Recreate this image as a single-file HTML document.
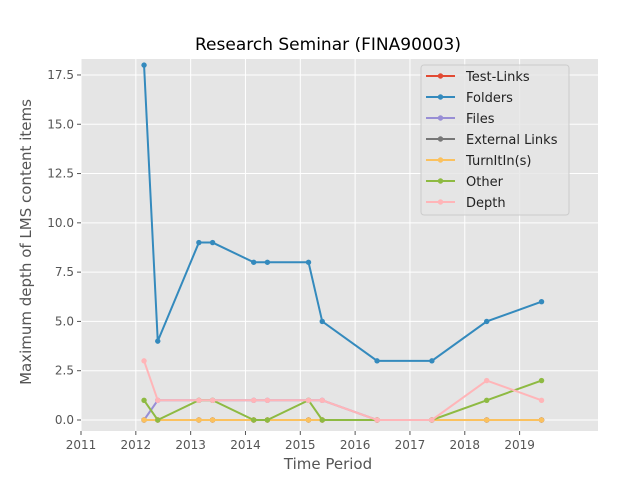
<!DOCTYPE html>
<html><head><meta charset="utf-8"><style>
html,body{margin:0;padding:0;background:#fff;}
svg{display:block;font-family:"DejaVu Sans","Liberation Sans",sans-serif;}
</style></head><body>
<svg id="chart" width="640" height="480" viewBox="0 0 640 480">
<rect x="81" y="59" width="517" height="372" fill="#e5e5e5"/>
<g id="grid"></g><g id="axes"></g><g id="series"></g>
<text x="328" y="50" font-size="17" text-anchor="middle" fill="#000">Research Seminar (FINA90003)</text>
<text x="328" y="469" font-size="15" text-anchor="middle" fill="#555">Time Period</text>
<text transform="translate(31,242) rotate(-90)" font-size="15" text-anchor="middle" fill="#555">Maximum depth of LMS content items</text>
<g id="legend"></g>
</svg>
<script>
const xs = [2012.15,2012.4,2013.15,2013.4,2014.15,2014.4,2015.15,2015.4,2016.4,2017.4,2018.4,2019.4];
const seriesNames = ["Test-Links","Folders","Files","External Links","TurnItIn(s)","Other","Depth"];
const testLinks = [0,0,0,0,0,0,0,0,0,0,0,0];
const folders = [18,4,9,9,8,8,8,5,3,3,5,6];
const files = [0,1,1,1,1,1,1,1,0,0,0,0];
const externalLinks = [0,0,0,0,0,0,0,0,0,0,0,0];
const turnitin = [0,0,0,0,0,0,0,0,0,0,0,0];
const other = [1,0,1,1,0,0,1,0,0,0,1,2];
const depth = [3,1,1,1,1,1,1,1,0,0,2,1];
const xTicks = [2011,2012,2013,2014,2015,2016,2017,2018,2019];
const yTicks = [0,2.5,5,7.5,10,12.5,15,17.5];
const colors = ["#E24A33","#348ABD","#988ED5","#777777","#FBC15E","#8EBA42","#FFB5B8"];
const allSeries = [testLinks,folders,files,externalLinks,turnitin,other,depth];
const NS="http://www.w3.org/2000/svg";
const X0=81,X1=598,Y0=59,Y1=431;
const xMin=2011,xMax=2020.43,yMin=-0.558,yMax=18.31;
function xp(v){return X0+(v-xMin)/(xMax-xMin)*(X1-X0);}
function yp(v){return Y1-(v-yMin)/(yMax-yMin)*(Y1-Y0);}
function mk(tag,attrs,parent){const e=document.createElementNS(NS,tag);for(const k in attrs)e.setAttribute(k,attrs[k]);parent.appendChild(e);return e;}
const grid=document.getElementById('grid'),axes=document.getElementById('axes'),ser=document.getElementById('series'),leg=document.getElementById('legend');
xTicks.forEach(t=>{const x=xp(t);
 const g=mk('line',{x1:x,x2:x,y1:Y0,y2:Y1,stroke:'#fff','stroke-width':1},grid);
 
 
 const tk=mk('line',{x1:x,x2:x,y1:Y1,y2:Y1+4,stroke:'#555'},axes);
 
 
 const tx=mk('text',{x:x,y:Y1+18,'font-size':12,'text-anchor':'middle',fill:'#555'},axes);tx.textContent=t;
 
 
});
yTicks.forEach(t=>{const y=yp(t);
 const g=mk('line',{x1:X0,x2:X1,y1:y,y2:y,stroke:'#fff','stroke-width':1},grid);
 
 
 const tk=mk('line',{x1:X0-4,x2:X0,y1:y,y2:y,stroke:'#555'},axes);
 
 
 const tx=mk('text',{x:X0-7,y:y+4,'font-size':12,'text-anchor':'end',fill:'#555'},axes);tx.textContent=t.toFixed(1);
 
 
});
allSeries.forEach((d,i)=>{
 const g=mk('g',{},ser);
 
 
 const pl=mk('polyline',{points:d.map((v,j)=>xp(xs[j])+','+yp(v)).join(' '),fill:'none',stroke:colors[i],'stroke-width':2},g);
 
 
 d.forEach((v,j)=>{const c=mk('circle',{cx:xp(xs[j]),cy:yp(v),r:2.7,fill:colors[i]},g);
  
  });
});
const box=mk('rect',{x:421,y:65,width:148,height:150,rx:3,fill:'#e5e5e5','fill-opacity':0.8,stroke:'#ccc'},leg);


seriesNames.forEach((n,i)=>{const y=76+i*21;
 const g=mk('g',{},leg);
 
 
 mk('line',{x1:426,x2:455,y1:y,y2:y,stroke:colors[i],'stroke-width':2},g);
 mk('circle',{cx:440.5,cy:y,r:2.7,fill:colors[i]},g);
 const t=mk('text',{x:466,y:y+5,'font-size':13,fill:'#222'},g);t.textContent=n;
});
</script>
</body></html>
